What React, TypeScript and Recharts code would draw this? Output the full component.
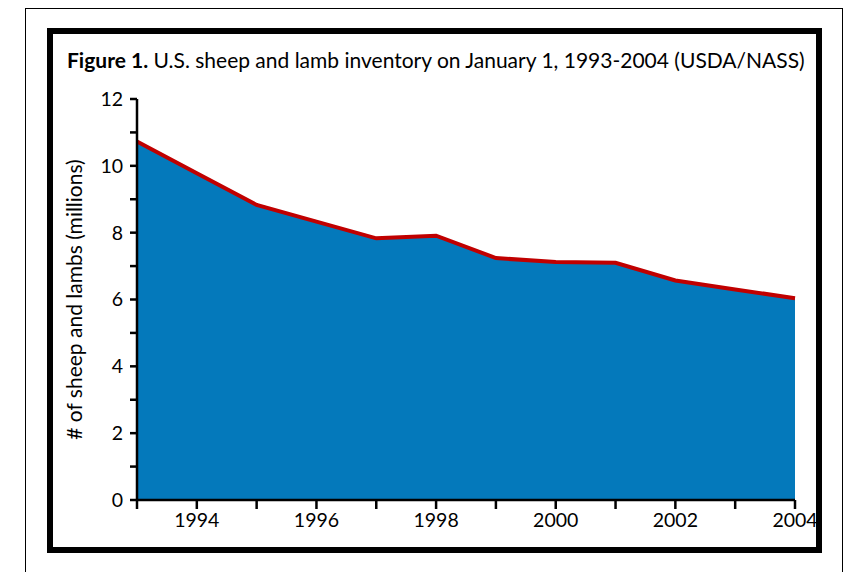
import { AreaChart, Area, XAxis, YAxis } from "recharts";

const years = [1993, 1994, 1995, 1996, 1997, 1998, 1999, 2000, 2001, 2002, 2003, 2004];
const inventory = [10.73, 9.78, 8.83, 8.33, 7.83, 7.91, 7.24, 7.12, 7.1, 6.57, 6.3, 6.04];
const xTicks = years;
const yTicks = [0, 1, 2, 3, 4, 5, 6, 7, 8, 9, 10, 11, 12];

const data = years.map((year, i) => ({ year, value: inventory[i] }));

const font = "Lato, 'Open Sans', sans-serif";
const tickStyle = { fill: "#000", fontSize: 19.5, fontFamily: font };

export default function App() {
  return (
    <div style={{ position: "absolute", left: 0, top: 0, width: 850, height: 572, background: "#fff", overflow: "hidden" }}>
      {/* outer page frame */}
      <div
        style={{
          position: "absolute",
          left: 25,
          top: 8,
          width: 818,
          height: 600,
          border: "1.5px solid #000",
          boxSizing: "border-box",
        }}
      />
      {/* thick figure box */}
      <div
        style={{
          position: "absolute",
          left: 47,
          top: 28,
          width: 775,
          height: 525,
          border: "6px solid #000",
          boxSizing: "border-box",
        }}
      />
      <div
        style={{
          position: "absolute",
          left: 67,
          top: 47,
          fontFamily: font,
          fontSize: 21,
          lineHeight: "26px",
          color: "#000",
          whiteSpace: "nowrap",
        }}
      >
        <b>Figure 1.</b> U.S. sheep and lamb inventory on January 1, 1993-2004 (USDA/NASS)
      </div>
      <div style={{ position: "absolute", left: 0, top: 0 }}>
        <AreaChart width={850} height={572} data={data} margin={{ top: 99, right: 55, bottom: 42, left: 0 }}>
          <XAxis
            dataKey="year"
            type="number"
            domain={[1993, 2004]}
            ticks={xTicks}
            tickFormatter={(v: number) => (v % 2 === 0 ? String(v) : "")}
            height={30}
            tick={tickStyle}
            tickSize={9}
            tickMargin={4}
            axisLine={{ stroke: "#000", strokeWidth: 2.5 }}
            tickLine={{ stroke: "#000", strokeWidth: 2.5 }}
          />
          <YAxis
            type="number"
            domain={[0, 12]}
            ticks={yTicks}
            interval={0}
            tickFormatter={(v: number) => (v % 2 === 0 ? String(v) : "")}
            width={137}
            tick={tickStyle}
            tickSize={7}
            tickMargin={7}
            axisLine={{ stroke: "#000", strokeWidth: 2.5 }}
            tickLine={{ stroke: "#000", strokeWidth: 2.5 }}
            label={{
              value: "# of sheep and lambs (millions)",
              angle: -90,
              position: "center",
              dx: 6,
              style: { fill: "#000", fontSize: 21, fontFamily: font, textAnchor: "middle" },
            }}
          />
          <Area
            type="linear"
            dataKey="value"
            stroke="#c00000"
            strokeWidth={4}
            fill="#0479bb"
            fillOpacity={1}
            isAnimationActive={false}
          />
        </AreaChart>
      </div>
    </div>
  );
}
